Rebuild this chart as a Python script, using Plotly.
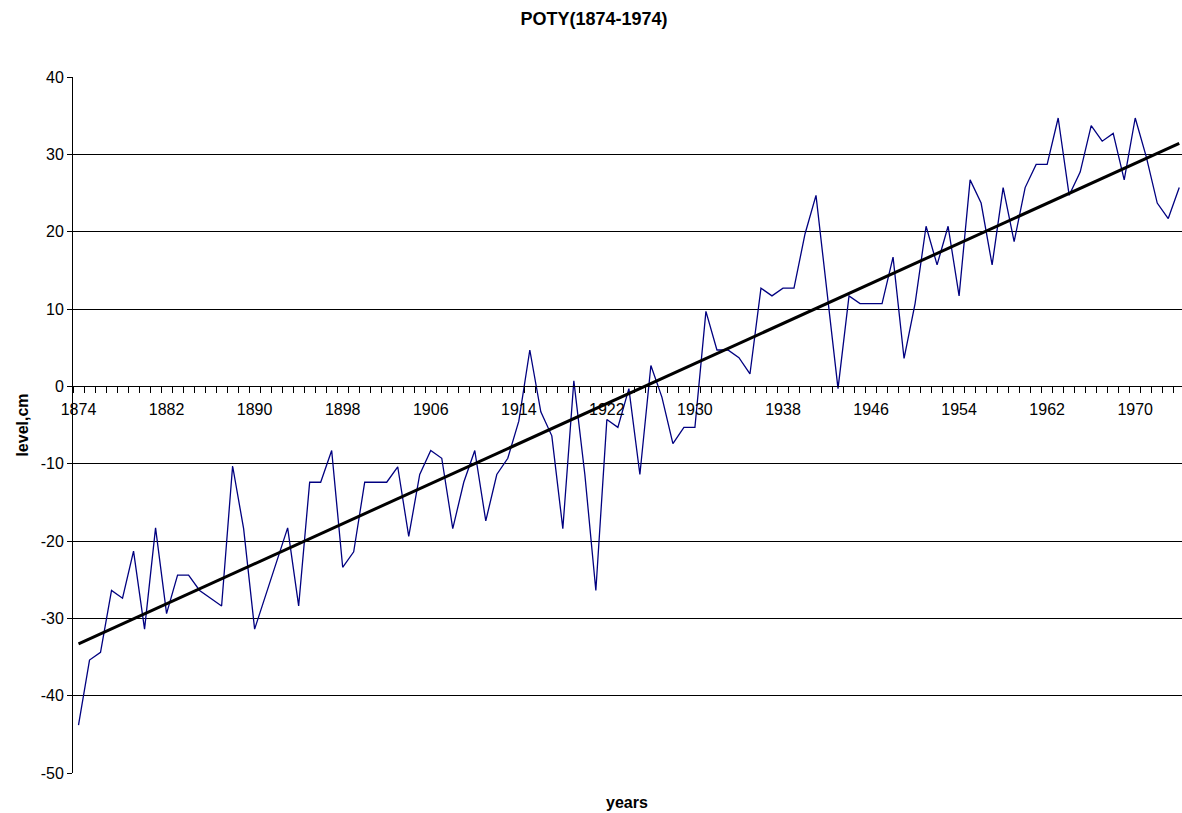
import numpy as np
import plotly.graph_objects as go

years = list(range(1874, 1975))
levels = [
    -43.8, -35.4, -34.4, -26.4, -27.4, -21.3, -31.4, -18.3, -29.4, -24.4,
    -24.4, -26.4, -27.4, -28.4, -10.3, -18.4, -31.4, -27.0, -22.7, -18.3,
    -28.4, -12.4, -12.4, -8.3, -23.4, -21.4, -12.4, -12.4, -12.4, -10.4,
    -19.4, -11.4, -8.3, -9.3, -18.4, -12.4, -8.3, -17.4, -11.4, -9.3,
    -4.5, 4.7, -3.3, -6.4, -18.4, 0.7, -11.4, -26.4, -4.3, -5.3,
    -0.3, -11.4, 2.7, -1.4, -7.4, -5.3, -5.3, 9.7, 4.7, 4.7,
    3.7, 1.6, 12.7, 11.7, 12.7, 12.7, 19.7, 24.7, 12.2, -0.3,
    11.7, 10.7, 10.7, 10.7, 16.7, 3.6, 10.7, 20.7, 15.7, 20.7,
    11.7, 26.7, 23.7, 15.7, 25.7, 18.7, 25.7, 28.7, 28.7, 34.7,
    24.7, 27.7, 33.7, 31.7, 32.7, 26.7, 34.7, 29.7, 23.7, 21.7,
    25.7,
]
label_years = list(range(1874, 1971, 8))
y_ticks = list(range(-50, 41, 10))

title_text = "POTY(1874-1974)"
x_title = "years"
y_title = "level,cm"

# linear trendline (least squares, as in the spreadsheet chart)
coef = np.polyfit(years, levels, 1)
trend = np.polyval(coef, years)

FONT = "Liberation Sans, Arial, sans-serif"

fig = go.Figure()
fig.add_trace(go.Scatter(x=years, y=levels, mode="lines",
                         line=dict(color="#000080", width=1.3),
                         showlegend=False))
fig.add_trace(go.Scatter(x=[years[0], years[-1]], y=[trend[0], trend[-1]],
                         mode="lines", line=dict(color="black", width=3),
                         showlegend=False))

ymin, ymax = y_ticks[0], y_ticks[-1]
fig.update_layout(
    width=1182, height=813,
    margin=dict(l=73, r=0, t=77, b=40),
    paper_bgcolor="white", plot_bgcolor="white",
    font=dict(family=FONT, size=16, color="black"),
    title=dict(text="<b>" + title_text + "</b>", x=(594 - 0) / 1182,
               xanchor="center", y=1 - 19 / 813, yanchor="middle",
               font=dict(size=18)),
    xaxis=dict(
        range=[1873.5, 1974.25],
        anchor="free", position=(0 - ymin) / (ymax - ymin),
        showgrid=False, zeroline=False,
        showline=True, linecolor="black", linewidth=1,
        tickmode="array", tickvals=label_years,
        ticktext=[str(v) for v in label_years],
        ticks="outside", ticklen=8, tickcolor="rgba(0,0,0,0)",
        minor=dict(ticks="outside", tick0=1873.5, dtick=1, ticklen=6,
                   tickcolor="black", tickwidth=1, showgrid=False),
        tickfont=dict(size=16),
    ),
    yaxis=dict(
        range=[ymin, ymax], domain=[0, 1],
        tickmode="array", tickvals=y_ticks,
        ticktext=[str(v) for v in y_ticks],
        showgrid=True, gridcolor="black", gridwidth=1,
        zeroline=False,
        showline=True, linecolor="black", linewidth=1,
        ticks="outside", ticklen=5, tickcolor="black",
        tickfont=dict(size=16),
        title=dict(text="<b>" + y_title + "</b>", font=dict(size=16), standoff=8),
    ),
    annotations=[
        dict(text="<b>" + x_title + "</b>", xref="paper", yref="paper",
             x=(627 - 73) / (1182 - 73), y=-(802 - 773) / (773 - 77),
             xanchor="center", yanchor="middle", showarrow=False,
             font=dict(size=16)),
    ],
)

fig.write_html(
    "out.html",
    config={"displayModeBar": False},
    post_script="document.body.style.margin='0';document.body.style.overflow='hidden';",
)
